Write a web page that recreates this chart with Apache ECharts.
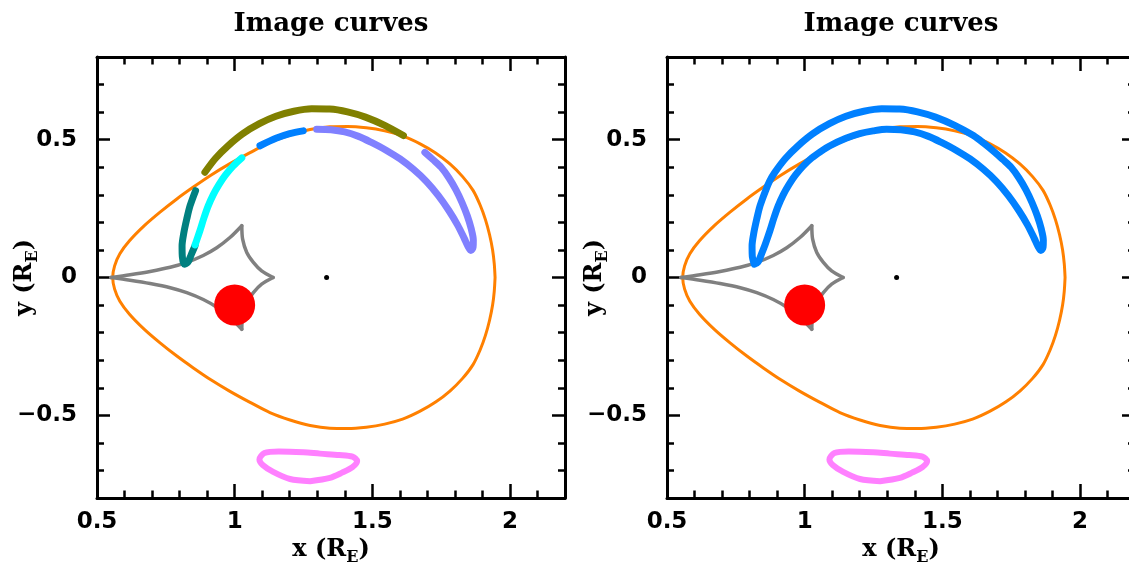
<!DOCTYPE html>
<html>
<head>
<meta charset="utf-8">
<script src="https://cdn.jsdelivr.net/npm/echarts@6/dist/echarts.min.js"></script>
<style>html,body{margin:0;padding:0;background:#fff}#chart{width:1129px;height:580px}</style>
</head>
<body>
<div id="chart"></div>
<script>
// ---------- data (x, y in units of R_E) ----------
const panelTitles = ['Image curves', 'Image curves'];
const xTickValues = [0.5, 1, 1.5, 2];
const xTickLabels = ['0.5', '1', '1.5', '2'];
const yTickValues = [-0.5, 0, 0.5];
const yTickLabels = ['\u22120.5', '0', '0.5'];
const xRange = [0.5, 2.2];
const yRange = [-0.8, 0.8];

const criticalCurve = [
  [1.946, 0.000], [1.943, 0.050], [1.937, 0.100], [1.926, 0.155], [1.911, 0.210],
  [1.892, 0.262], [1.866, 0.316], [1.828, 0.366], [1.782, 0.412], [1.730, 0.452],
  [1.672, 0.486], [1.610, 0.514], [1.545, 0.532], [1.478, 0.543], [1.410, 0.548],
  [1.346, 0.547], [1.274, 0.537], [1.201, 0.517], [1.128, 0.490], [1.056, 0.453],
  [0.983, 0.413], [0.915, 0.372], [0.850, 0.328], [0.790, 0.285], [0.729, 0.237],
  [0.672, 0.188], [0.618, 0.133], [0.583, 0.086], [0.564, 0.042], [0.557, 0.000],
  [0.564, -0.042], [0.583, -0.086], [0.618, -0.133], [0.672, -0.188], [0.729, -0.237],
  [0.790, -0.285], [0.850, -0.328], [0.915, -0.372], [0.983, -0.413], [1.056, -0.453],
  [1.128, -0.490], [1.201, -0.517], [1.274, -0.537], [1.346, -0.547], [1.410, -0.548],
  [1.478, -0.543], [1.545, -0.532], [1.610, -0.514], [1.672, -0.486], [1.730, -0.452],
  [1.782, -0.412], [1.828, -0.366], [1.866, -0.316], [1.892, -0.262], [1.911, -0.210],
  [1.926, -0.155], [1.937, -0.100], [1.943, -0.050], [1.946, 0.000]
];

const causticUpperLeft = [
  [0.550, 0.000], [0.620, 0.010], [0.693, 0.022], [0.766, 0.037], [0.826, 0.055],
  [0.886, 0.080], [0.935, 0.108], [0.983, 0.145], [1.026, 0.188]
];
const causticUpperRight = [
  [1.026, 0.188], [1.029, 0.139], [1.044, 0.091], [1.068, 0.055], [1.098, 0.024], [1.140, 0.000]
];
const causticLowerRight = [
  [1.140, 0.000], [1.098, -0.024], [1.068, -0.055], [1.044, -0.091], [1.029, -0.139], [1.026, -0.188]
];
const causticLowerLeft = [
  [1.026, -0.188], [0.983, -0.145], [0.935, -0.108], [0.886, -0.080], [0.826, -0.055],
  [0.766, -0.037], [0.693, -0.022], [0.620, -0.010], [0.550, 0.000]
];

const pinkLoop = [
  [1.274, -0.739], [1.201, -0.731], [1.140, -0.705], [1.102, -0.680], [1.090, -0.660],
  [1.108, -0.637], [1.160, -0.631], [1.250, -0.634], [1.310, -0.639], [1.380, -0.644],
  [1.428, -0.650], [1.445, -0.666], [1.428, -0.688], [1.390, -0.708], [1.346, -0.727],
  [1.274, -0.739]
];

const imageOlive = [
  [0.892, 0.382], [0.930, 0.432], [0.975, 0.477], [1.030, 0.522], [1.090, 0.558],
  [1.150, 0.585], [1.215, 0.603], [1.280, 0.612], [1.345, 0.611], [1.410, 0.601],
  [1.475, 0.582], [1.545, 0.552], [1.613, 0.515]
];
const imageBlue = [[1.092, 0.478], [1.150, 0.505], [1.200, 0.522], [1.249, 0.532]];
const imagePurple = [
  [1.298, 0.538], [1.350, 0.536], [1.400, 0.528], [1.450, 0.512], [1.495, 0.491],
  [1.550, 0.462], [1.601, 0.430], [1.650, 0.392], [1.697, 0.348], [1.740, 0.297],
  [1.778, 0.243], [1.810, 0.190], [1.834, 0.142], [1.848, 0.112], [1.858, 0.098],
  [1.866, 0.110], [1.867, 0.135], [1.859, 0.178], [1.845, 0.224], [1.826, 0.272],
  [1.804, 0.318], [1.778, 0.362], [1.750, 0.400], [1.720, 0.428], [1.691, 0.454]
];
const imageCyan = [
  [1.026, 0.434], [0.995, 0.405], [0.967, 0.372], [0.943, 0.337], [0.922, 0.300],
  [0.904, 0.260], [0.888, 0.215], [0.874, 0.170], [0.862, 0.135], [0.856, 0.118]
];
const imageTeal = [
  [0.858, 0.315], [0.838, 0.260], [0.826, 0.212], [0.815, 0.160], [0.809, 0.115],
  [0.810, 0.075], [0.817, 0.048], [0.830, 0.055], [0.843, 0.085], [0.856, 0.115]
];

const imageLoop = [
  [0.817, 0.048], [0.810, 0.075], [0.809, 0.115], [0.815, 0.160], [0.826, 0.212],
  [0.838, 0.260], [0.858, 0.315], [0.873, 0.350], [0.892, 0.382], [0.930, 0.432],
  [0.975, 0.477], [1.030, 0.522], [1.090, 0.558], [1.150, 0.585], [1.215, 0.603],
  [1.280, 0.612], [1.345, 0.611], [1.410, 0.601], [1.475, 0.582], [1.545, 0.552],
  [1.613, 0.515], [1.652, 0.486], [1.691, 0.454], [1.720, 0.428], [1.750, 0.400],
  [1.778, 0.362], [1.804, 0.318], [1.826, 0.272], [1.845, 0.224], [1.859, 0.178],
  [1.867, 0.135], [1.866, 0.110], [1.858, 0.098], [1.848, 0.112], [1.834, 0.142],
  [1.810, 0.190], [1.778, 0.243], [1.740, 0.297], [1.697, 0.348], [1.650, 0.392],
  [1.601, 0.430], [1.550, 0.462], [1.495, 0.491], [1.450, 0.512], [1.400, 0.528],
  [1.350, 0.536], [1.298, 0.538], [1.249, 0.532], [1.200, 0.522], [1.150, 0.505],
  [1.092, 0.478], [1.058, 0.457], [1.026, 0.434], [0.995, 0.405], [0.967, 0.372],
  [0.943, 0.337], [0.922, 0.300], [0.904, 0.260], [0.888, 0.215], [0.874, 0.170],
  [0.862, 0.135], [0.856, 0.118], [0.843, 0.085], [0.830, 0.055], [0.817, 0.048]
];

const lensPosition = [[1.0, -0.1]];
const centerPoint = [[1.334, 0.0]];

// ---------- chart ----------
const SANS = 'DejaVu Sans';
const SERIF = 'DejaVu Serif';
const gridLefts = [97, 667];

function lookup(vals, labels) {
  return function (v) {
    for (let i = 0; i < vals.length; i++) if (Math.abs(vals[i] - v) < 1e-6) return labels[i];
    return '';
  };
}
const nameRich = {
  a: { fontFamily: SERIF, fontWeight: 'bold', fontSize: 24, color: '#000', lineHeight: 32 },
  b: { fontFamily: SERIF, fontWeight: 'bold', fontSize: 16, color: '#000', lineHeight: 14, verticalAlign: 'bottom' }
};
const axisBase = { type: 'value', splitLine: { show: false }, silent: true };
const lineBlack = { color: '#000', width: 3 };
const tickStyle = { color: '#000', width: 2.5 };

const grids = [], xAxes = [], yAxes = [], series = [];
gridLefts.forEach(function (left, g) {
  grids.push({ left: left, top: 57, width: 468, height: 441, outerBoundsMode: 'none', containLabel: false });
  ['bottom', 'top'].forEach(function (pos) {
    xAxes.push(Object.assign({}, axisBase, {
      gridIndex: g, position: pos, min: xRange[0], max: xRange[1], interval: 0.5,
      axisLine: { show: true, onZero: false, lineStyle: lineBlack },
      axisTick: { show: true, inside: true, length: 14, lineStyle: tickStyle },
      axisLabel: pos === 'bottom' ? {
        show: true, margin: 13, formatter: lookup(xTickValues, xTickLabels), color: '#000',
        fontSize: 23, fontWeight: 'bold', fontFamily: SANS, hideOverlap: false
      } : { show: false },
      name: pos === 'bottom' ? '{a|x (R}{b|E}{a|)}' : '',
      nameLocation: 'middle', nameGap: 36, nameMoveOverlap: false,
      nameTextStyle: { rich: nameRich }
    }));
    xAxes.push(Object.assign({}, axisBase, {
      gridIndex: g, position: pos, min: xRange[0], max: xRange[1], interval: 0.1,
      axisLine: { show: false, onZero: false },
      axisTick: { show: true, inside: true, length: 7.5, lineStyle: tickStyle },
      axisLabel: { show: false }
    }));
  });
  ['left', 'right'].forEach(function (pos) {
    yAxes.push(Object.assign({}, axisBase, {
      gridIndex: g, position: pos, min: yRange[0], max: yRange[1], splitNumber: 3,
      axisLine: { show: true, onZero: false, lineStyle: lineBlack },
      axisTick: { show: true, inside: true, length: 13, lineStyle: tickStyle },
      axisLabel: pos === 'left' ? {
        show: true, margin: 20, formatter: lookup(yTickValues, yTickLabels), color: '#000',
        fontSize: 23, fontWeight: 'bold', fontFamily: SANS, hideOverlap: false
      } : { show: false },
      name: pos === 'left' ? '{a|y (R}{b|E}{a|)}' : '',
      nameLocation: 'middle', nameGap: 56, nameRotate: 90, nameMoveOverlap: false,
      nameTextStyle: { rich: nameRich }
    }));
    yAxes.push(Object.assign({}, axisBase, {
      gridIndex: g, position: pos, min: yRange[0], max: yRange[1], interval: 0.1,
      axisLine: { show: false, onZero: false },
      axisTick: { show: true, inside: true, length: 7, lineStyle: tickStyle },
      axisLabel: { show: false }
    }));
  });

  const ax = 4 * g;
  function line(data, color, width, z) {
    series.push({
      type: 'line', xAxisIndex: ax, yAxisIndex: ax, data: data, showSymbol: false, symbol: 'none',
      smooth: 0.3, silent: true, z: z,
      lineStyle: { color: color, width: width, cap: 'round', join: 'round', opacity: 1 }
    });
  }
  line(criticalCurve, '#ff8000', 3, 2);
  line(causticUpperLeft, '#808080', 3.5, 3);
  line(causticUpperRight, '#808080', 3.5, 3);
  line(causticLowerRight, '#808080', 3.5, 3);
  line(causticLowerLeft, '#808080', 3.5, 3);
  line(pinkLoop, '#ff80ff', 6, 4);
  if (g === 0) {
    line(imageOlive, '#808000', 7, 5);
    line(imageBlue, '#0080ff', 7, 5);
    line(imagePurple, '#8080ff', 7, 5);
    line(imageTeal, '#008080', 7, 5);
    line(imageCyan, '#00ffff', 7, 6);
  } else {
    line(imageLoop, '#0080ff', 7, 5);
  }
  series.push({
    type: 'scatter', xAxisIndex: ax, yAxisIndex: ax, data: lensPosition, symbol: 'circle',
    symbolSize: 41, itemStyle: { color: '#ff0000', opacity: 1 }, silent: true, z: 8
  });
  series.push({
    type: 'scatter', xAxisIndex: ax, yAxisIndex: ax, data: centerPoint, symbol: 'circle',
    symbolSize: 5, itemStyle: { color: '#000', opacity: 1 }, silent: true, z: 8
  });
});

const chart = echarts.init(document.getElementById('chart'), null, { renderer: 'canvas' });
chart.setOption({
  animation: false,
  backgroundColor: '#ffffff',
  title: panelTitles.map(function (t, i) {
    return {
      text: t, left: gridLefts[i] + 234, top: 11, textAlign: 'center', padding: 0,
      textStyle: { fontFamily: SERIF, fontWeight: 'bold', fontSize: 26, color: '#000' }
    };
  }),
  grid: grids,
  xAxis: xAxes,
  yAxis: yAxes,
  series: series
});
</script>
</body>
</html>
